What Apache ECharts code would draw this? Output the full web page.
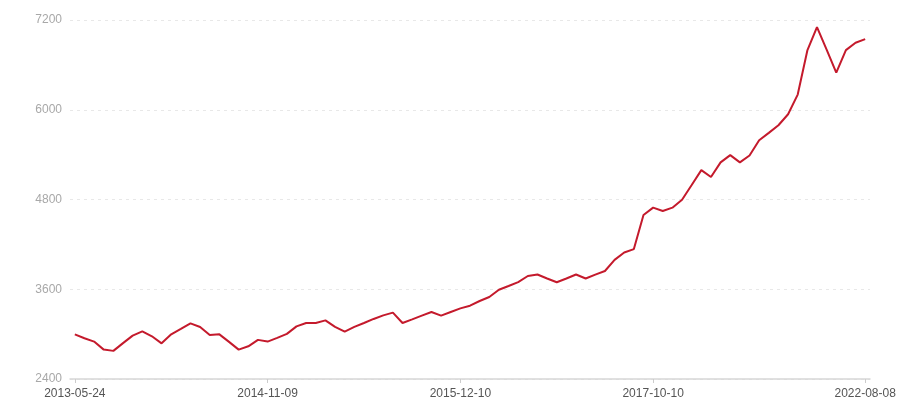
<!DOCTYPE html>
<html>
<head>
<meta charset="utf-8">
<script src="https://cdn.jsdelivr.net/npm/echarts@6/dist/echarts.min.js"></script>
<style>html,body{margin:0;padding:0;background:#fff}#c{width:900px;height:400px}</style>
</head>
<body>
<div id="c"></div>
<script>
var categories = [
"2013-05-24","2013-06-20","2013-07-17","2013-08-13","2013-09-09","2013-10-06","2013-11-02","2013-11-29","2013-12-26","2014-01-22",
"2014-02-18","2014-03-17","2014-04-13","2014-05-10","2014-06-06","2014-07-03","2014-07-30","2014-08-26","2014-09-22","2014-10-16",
"2014-11-09","2014-11-29","2014-12-19","2015-01-08","2015-01-28","2015-02-17","2015-03-09","2015-03-29","2015-04-18","2015-05-08",
"2015-05-28","2015-06-17","2015-07-07","2015-07-27","2015-08-16","2015-09-05","2015-09-25","2015-10-15","2015-11-04","2015-11-22",
"2015-12-10","2016-01-12","2016-02-14","2016-03-18","2016-04-20","2016-05-23","2016-06-25","2016-07-28","2016-08-30","2016-10-02",
"2016-11-04","2016-12-07","2017-01-09","2017-02-11","2017-03-16","2017-04-18","2017-05-21","2017-06-23","2017-07-26","2017-08-28",
"2017-10-10","2017-12-29","2018-03-19","2018-06-07","2018-08-26","2018-11-14","2019-02-02","2019-04-23","2019-07-12","2019-09-30",
"2019-12-19","2020-03-08","2020-05-27","2020-08-15","2020-11-03","2021-01-22","2021-04-12","2021-07-01","2021-09-19","2021-12-08",
"2022-02-26","2022-05-18","2022-08-08"
];
var values = [
2997,2945,2900,2793,2776,2880,2980,3037,2971,2877,
2997,3069,3144,3096,2989,2997,2896,2793,2837,2923,
2900,2949,3003,3104,3149,3149,3184,3096,3033,3096,
3149,3203,3251,3287,3149,3197,3247,3296,3247,3296,
3344,3380,3443,3496,3593,3644,3696,3777,3797,3744,
3693,3744,3797,3744,3796,3844,3993,4091,4137,4593,
4691,4647,4691,4797,4993,5193,5100,5296,5393,5296,
5389,5593,5691,5793,5940,6203,6793,7104,6803,6496,
6797,6896,6944
];
var yTicks = [2400, 3600, 4800, 6000, 7200];

var lastIdx = categories.length - 1;
function showLabel(i){ return (i % 20 === 0 && i <= 60) || i === lastIdx; }

var chart = echarts.init(document.getElementById('c'), null, {renderer:'canvas'});
chart.setOption({
  animation: false,
  grid: {left: 70, right: 30, top: 20, bottom: 20, containLabel: false},
  xAxis: {
    type: 'category',
    data: categories,
    boundaryGap: true,
    axisLine: {lineStyle: {color: '#d6d6d6', width: 1.5}},
    axisTick: {show: true, alignWithLabel: true, interval: function(i){return showLabel(i);}, length: 4, lineStyle: {color: '#cccccc'}},
    axisLabel: {interval: function(i){return showLabel(i);}, color: '#555555', fontSize: 12, margin: 9, fontFamily: 'Liberation Sans, Arial, sans-serif'},
    splitLine: {show: false}
  },
  yAxis: {
    type: 'value',
    min: yTicks[0],
    max: yTicks[yTicks.length-1],
    interval: yTicks[1] - yTicks[0],
    axisLine: {show: false},
    axisTick: {show: false},
    axisLabel: {color: '#a8a8a8', fontSize: 12, margin: 8, fontFamily: 'Liberation Sans, Arial, sans-serif', formatter: function(v){return String(v);}},
    splitLine: {lineStyle: {color: '#e8e8e8', type: [3, 4]}}
  },
  series: [{
    type: 'line',
    data: values,
    showSymbol: false,
    symbol: 'none',
    lineStyle: {color: '#c41a2c', width: 2},
    itemStyle: {color: '#c41a2c'}
  }]
});
</script>
</body>
</html>
